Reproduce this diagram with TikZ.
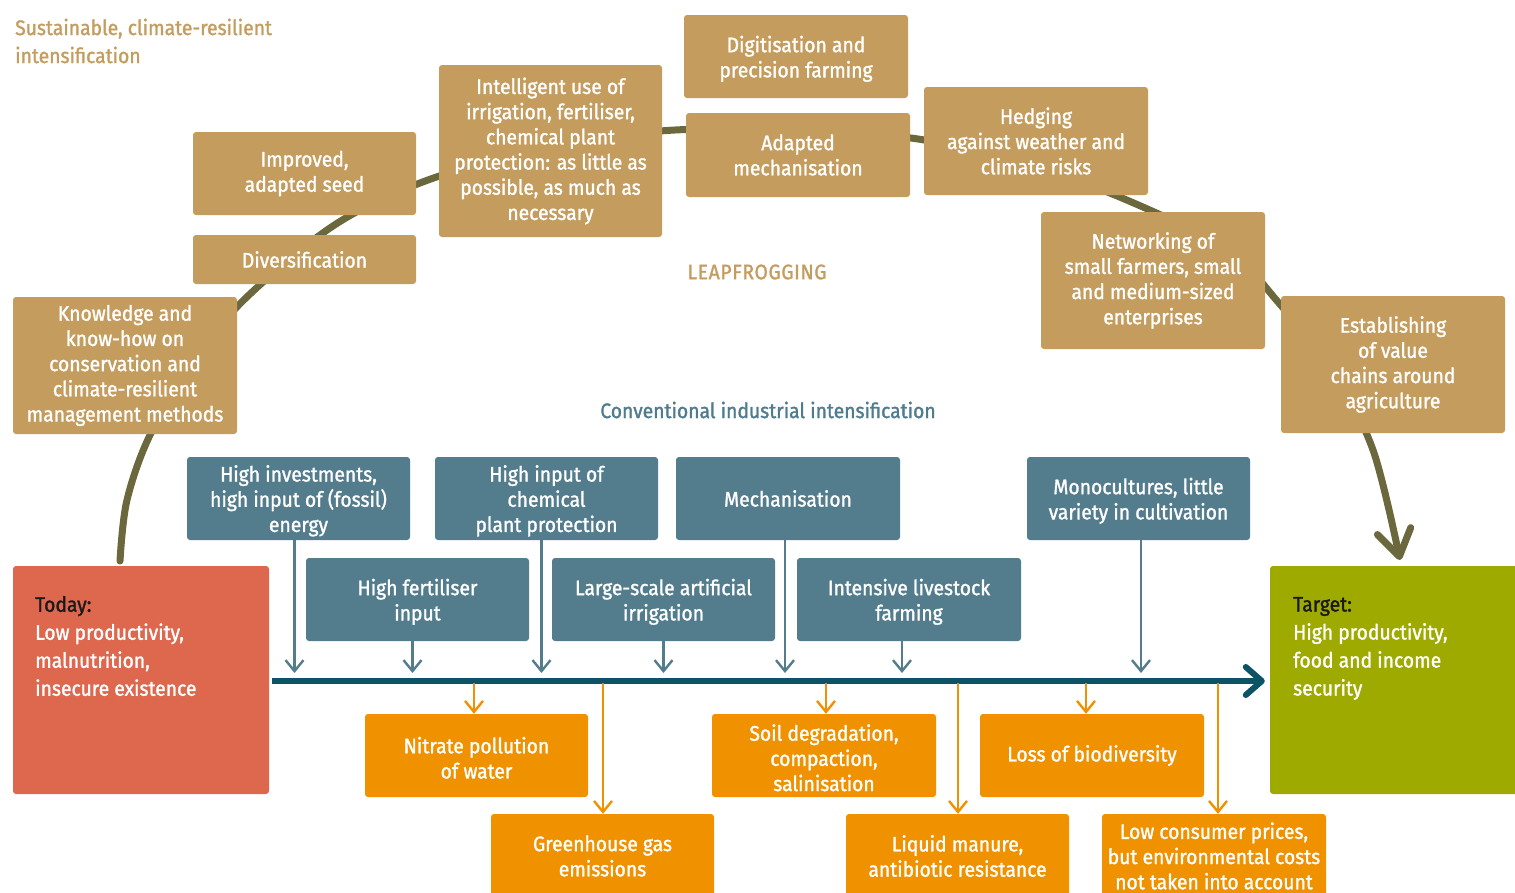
\documentclass[tikz,border=0pt]{standalone}
\usepackage{fontspec}
\setmainfont{Fira Sans}[FakeStretch=0.92, FakeBold=1.3]
\usetikzlibrary{arrows.meta,calc}
\definecolor{cTan}{HTML}{C49D5E}
\definecolor{cOlive}{HTML}{6B683D}
\definecolor{cSlate}{HTML}{537C8D}
\definecolor{cTeal}{HTML}{0D5366}
\definecolor{cOrange}{HTML}{F09100}
\definecolor{cRed}{HTML}{DD684E}
\definecolor{cGreen}{HTML}{9FAA00}
\definecolor{cBlueText}{HTML}{4E7C8E}
\newcommand\nd{\rule{0pt}{21pt}}
\tikzset{
  txt/.style={font=\fontsize{21}{25.2}\selectfont, text=white, align=center, inner sep=0pt},
  box/.style={txt, rounded corners=3pt, minimum width=224pt, minimum height=83pt},
  tanbox/.style={box, fill=cTan},
  bluebox/.style={box, fill=cSlate},
  orbox/.style={box, fill=cOrange},
  barr/.style={draw=cSlate, line width=2.4pt, -{Straight Barb[length=11pt,width=18pt]}},
  oarr/.style={draw=cOrange, line width=2.4pt, -{Straight Barb[length=11pt,width=18pt]}},
  mainarr/.style={draw=cTeal, line width=6pt, -{Straight Barb[length=16pt,width=28pt,round]}},
  olivearr/.style={draw=cOlive, line width=7pt, line cap=round, -{Straight Barb[length=26pt,width=34pt,round]}},
}
\begin{document}
\begin{tikzpicture}[x=1pt,y=-1pt]
\useasboundingbox (0,0) rectangle (1515,892);
\fill[white] (0,0) rectangle (1515,892);

% olive leapfrogging curve (behind boxes)
\coordinate (ostart) at (120,561);
\coordinate (oend) at (1400,560);
\draw[olivearr] plot[smooth, tension=0.55] coordinates {(ostart) (127,500) (151,433) (200,352) (250,294) (336,224) (428,180) (550,146) (675,130) (800,132) (918,139) (1040,168) (1136,204) (1228,250) (1278,302) (1332,370) (1373,450) (oend)};

% titles
\node[txt, text=cTan, align=left, anchor=west, font=\fontsize{21}{28}\selectfont] (title) at (15,41) {Sustainable, climate-resilient\\intensification};
\node[txt, text=cTan, font=\fontsize{21}{25.2}\selectfont\addfontfeature{LetterSpace=3}] (leap) at (757,272) {LEAPFROGGING};
\node[txt, text=cBlueText] (conv) at (768,410) {Conventional industrial intensification};

% tan boxes
\node[tanbox] (dig) at (796,56.5) {\nd Digitisation and\\precision farming};
\node[tanbox, minimum width=223pt, minimum height=172pt] (intel) at (550.5,151) {Intelligent use of\\irrigation, fertiliser,\\chemical plant\\protection: as little as\\possible, as much as\\necessary};
\node[tanbox, minimum width=223pt] (seed) at (304.5,173.5) {Improved,\\adapted seed};
\node[tanbox, minimum width=223pt, minimum height=49pt] (div) at (304.5,259.5) {Diversification};
\node[tanbox, minimum height=84pt] (amech) at (798,155) {Adapted\\mechanisation};
\node[tanbox, minimum height=108pt] (hedge) at (1036,141) {Hedging\\against weather and\\climate risks};
\node[tanbox, minimum height=137pt] (net) at (1153,280.5) {Networking of\\small farmers, small\\and medium-sized\\enterprises};
\node[tanbox, minimum height=137pt] (know) at (125,365.5) {Knowledge and\\know-how on\\conservation and\\climate-resilient\\management methods};
\node[tanbox, minimum height=137pt] (estab) at (1393,364.5) {Establishing\\of value\\chains around\\agriculture};

% today / target
\node[box, fill=cRed, minimum width=256pt, minimum height=228pt] (today) at (141,680) {};
\node[txt, align=left, anchor=west, font=\fontsize{21}{28}\selectfont] (todaytxt) at (35,646) {{\color{black!90}Today:}\\Low productivity,\\malnutrition,\\insecure existence};
\node[box, fill=cGreen, minimum width=250pt, minimum height=228pt] (target) at (1395,680) {};
\node[txt, align=left, anchor=west, font=\fontsize{21}{28}\selectfont] (targettxt) at (1293,648.5) {{\color{black!90}Target:}\\High productivity,\\food and income\\security};

% main arrow
\draw[mainarr] ($(today.east)+(3,1)$) -- ($(target.west)+(-5,1)$);
\coordinate (ms) at ($(today.east)+(3,1)$);

% blue boxes
\node[bluebox, minimum width=223pt] (hi) at (298.5,498.5) {\nd High investments,\\high input of (fossil)\\energy};
\node[bluebox, minimum width=223pt] (chem) at (546.5,498.5) {\nd High input of\\chemical\\plant protection};
\node[bluebox] (mech) at (788,498.5) {Mechanisation};
\node[bluebox, minimum width=223pt] (mono) at (1138.5,498.5) {\nd Monocultures, little\\variety in cultivation};
\node[bluebox, minimum width=223pt] (fert) at (417.5,599.5) {\nd High fertiliser\\input};
\node[bluebox, minimum width=223pt] (irr) at (663.5,599.5) {\nd Large-scale artificial\\irrigation};
\node[bluebox] (live) at (909,599.5) {\nd Intensive livestock\\farming};

\foreach \n/\dx in {hi/-4, chem/-5, mech/-3, mono/2.5, fert/-5, irr/0, live/-7}{
  \draw[barr] ($(\n.south)+(\dx,0)$) -- ($(\n.south |- ms)+(\dx,-8)$);
}

% orange boxes
\node[orbox, minimum width=223pt] (nit) at (476.5,755.5) {\nd Nitrate pollution\\of water};
\node[orbox, minimum width=223pt, minimum height=84pt] (ghg) at (602.5,856) {Greenhouse gas\\emissions};
\node[orbox] (soil) at (824,755.5) {\nd Soil degradation,\\compaction,\\salinisation};
\node[orbox, minimum width=223pt, minimum height=84pt] (liq) at (957.5,856) {Liquid manure,\\antibiotic resistance};
\node[orbox] (bio) at (1092,755.5) {Loss of biodiversity};
\node[orbox, minimum height=84pt] (low) at (1214,856) {Low consumer prices,\\but environmental costs\\not taken into account};

\foreach \n/\dx in {nit/-2.5, ghg/0.5, soil/2, liq/0.5, bio/-6, low/4}{
  \draw[oarr] ($(\n.north |- ms)+(\dx,2)$) -- ($(\n.north)+(\dx,0)$);
}
\end{tikzpicture}
\end{document}
